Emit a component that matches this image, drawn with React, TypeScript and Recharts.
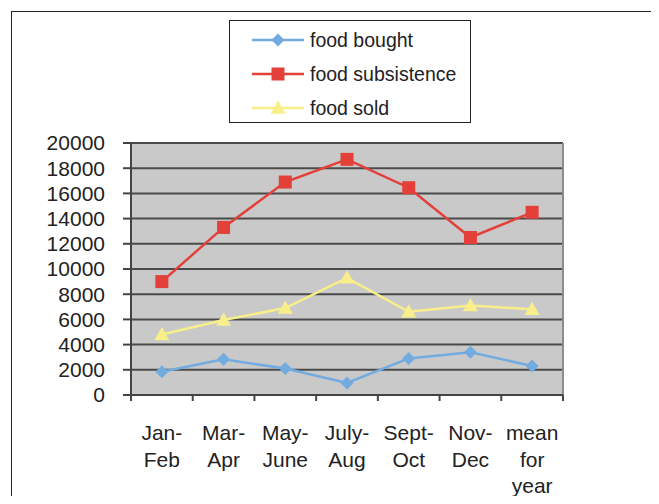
import React from "react";
import {
  LineChart,
  Line,
  XAxis,
  YAxis,
  CartesianGrid,
  Legend,
  ReferenceLine,
} from "recharts";

const categories = [
  "Jan-\nFeb",
  "Mar-\nApr",
  "May-\nJune",
  "July-\nAug",
  "Sept-\nOct",
  "Nov-\nDec",
  "mean\nfor\nyear",
];
const foodBought = [1850, 2830, 2100, 950, 2900, 3400, 2300];
const foodSubsistence = [9000, 13300, 16900, 18700, 16450, 12500, 14500];
const foodSold = [4800, 5950, 6900, 9300, 6600, 7100, 6800];
const yTicks = [0, 2000, 4000, 6000, 8000, 10000, 12000, 14000, 16000, 18000, 20000];
// boundaries on whole numbers, labels on the halves
const xTicks = [0, 0.5, 1, 1.5, 2, 2.5, 3, 3.5, 4, 4.5, 5, 5.5, 6, 6.5, 7];
const legendOrder = ["bought", "subsistence", "sold"];

const BLUE = "#72abe0";
const RED = "#e4403a";
const YELLOW = "#f8ef8a";
const FONT = "'Liberation Sans', Arial, sans-serif";

const data = categories.map((name, i) => ({
  name,
  pos: i + 0.5,
  bought: foodBought[i],
  subsistence: foodSubsistence[i],
  sold: foodSold[i],
}));

function marker(kind: string, cx: number, cy: number, fill: string, key?: string) {
  if (kind === "diamond") {
    const r = 6.5;
    return (
      <path key={key} d={`M${cx},${cy - r}L${cx + r},${cy}L${cx},${cy + r}L${cx - r},${cy}Z`} fill={fill} />
    );
  }
  if (kind === "square") {
    const r = 6.5;
    return <rect key={key} x={cx - r} y={cy - r} width={r * 2} height={r * 2} fill={fill} />;
  }
  const r = 7.5;
  return (
    <path key={key} d={`M${cx},${cy - r}L${cx + r},${cy + r * 0.75}L${cx - r},${cy + r * 0.75}Z`} fill={fill} />
  );
}

const dotFor = (kind: string, fill: string) => (props: any) => {
  const { cx, cy, index } = props;
  if (cx == null || cy == null) return <g key={`${kind}-${index}`} />;
  return marker(kind, cx, cy, fill, `${kind}-${index}`);
};

const KINDS: Record<string, string> = {
  bought: "diamond",
  subsistence: "square",
  sold: "triangle",
};

function LegendBox(props: any) {
  const items = [...(props.payload || [])].sort(
    (a: any, b: any) => legendOrder.indexOf(a.dataKey) - legendOrder.indexOf(b.dataKey)
  );
  return (
    <div
      style={{
        boxSizing: "border-box",
        width: 242,
        height: 103,
        border: "1.5px solid #222",
        background: "#fff",
        paddingTop: 2,
        fontFamily: FONT,
        fontSize: 19.5,
        color: "#222",
      }}
    >
      {items.map((it: any) => (
        <div key={it.dataKey} style={{ height: 34, display: "flex", alignItems: "center" }}>
          <svg width={78} height={20} style={{ flex: "none" }}>
            <line x1={22} x2={74} y1={10} y2={10} stroke={it.color} strokeWidth={2.5} />
            {marker(KINDS[it.dataKey], 48, 10, it.color)}
          </svg>
          <span style={{ marginLeft: 2 }}>{it.value}</span>
        </div>
      ))}
    </div>
  );
}

function XTick(props: any) {
  const { x, y, payload } = props;
  const v = payload.value as number;
  if (Number.isInteger(v)) {
    return <line x1={x} x2={x} y1={y - 6} y2={y} stroke="#444" strokeWidth={2} />;
  }
  const lines = categories[Math.floor(v)].split("\n");
  return (
    <text x={x} y={y + 39} textAnchor="middle" fill="#222" fontSize={21} fontFamily={FONT}>
      {lines.map((t, i) => (
        <tspan key={i} x={x} dy={i === 0 ? 0 : 26.5}>
          {t}
        </tspan>
      ))}
    </text>
  );
}

export default function App() {
  return (
    <div
      style={{
        position: "relative",
        width: 651,
        height: 496,
        marginBottom: -8,
        marginRight: -8,
      }}
    >
      <style>{"html, body { overflow: hidden; }"}</style>
      <div
        style={{
          position: "absolute",
          left: 3,
          top: 3,
          width: 646,
          height: 493,
          boxSizing: "border-box",
          border: "1.5px solid #222",
          borderBottom: "none",
        }}
      />
      <LineChart
        width={643}
        height={496}
        data={data}
        margin={{ top: 135, right: 88, bottom: 0, left: 0 }}
        style={{ position: "absolute", left: 0, top: 0 }}
      >
        <CartesianGrid
          vertical={false}
          fill="#c9c9c9"
          fillOpacity={1}
          stroke="#4a4a4a"
          strokeWidth={2}
        />
        <XAxis
          dataKey="pos"
          type="number"
          domain={[0, 7]}
          ticks={xTicks}
          interval={0}
          tickLine={false}
          tickSize={6}
          tickMargin={0}
          tick={<XTick />}
          axisLine={{ stroke: "#444", strokeWidth: 2 }}
          height={109}
        />
        <YAxis
          domain={[0, 20000]}
          ticks={yTicks}
          interval={0}
          width={123}
          tickSize={8}
          tickMargin={18}
          tickLine={{ stroke: "#444", strokeWidth: 2 }}
          axisLine={{ stroke: "#444", strokeWidth: 2 }}
          tick={{ fill: "#222", fontSize: 21, fontFamily: FONT }}
        />
        <ReferenceLine x={7} stroke="#8c8c8c" strokeWidth={2} />
        <Legend
          layout="vertical"
          align="center"
          verticalAlign="middle"
          content={<LegendBox />}
          wrapperStyle={{ left: 221, top: 12, width: 242, height: 103 }}
        />
        <Line
          dataKey="bought"
          name="food bought"
          stroke={BLUE}
          strokeWidth={2.5}
          dot={dotFor("diamond", BLUE)}
          activeDot={false}
          isAnimationActive={false}
        />
        <Line
          dataKey="subsistence"
          name="food subsistence"
          stroke={RED}
          strokeWidth={2.5}
          dot={dotFor("square", RED)}
          activeDot={false}
          isAnimationActive={false}
        />
        <Line
          dataKey="sold"
          name="food sold"
          stroke={YELLOW}
          strokeWidth={2.5}
          dot={dotFor("triangle", YELLOW)}
          activeDot={false}
          isAnimationActive={false}
        />
      </LineChart>
    </div>
  );
}
